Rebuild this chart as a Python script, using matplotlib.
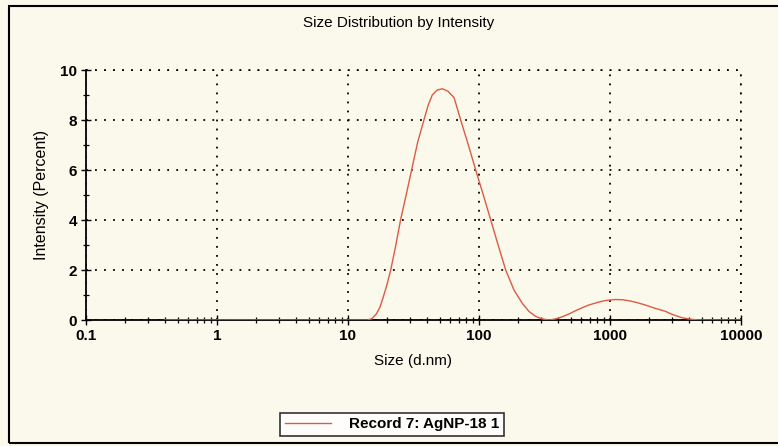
import matplotlib.pyplot as plt
from matplotlib.patches import Rectangle
from matplotlib.ticker import FixedLocator, NullFormatter

plt.rcParams['font.family'] = ['Liberation Sans', 'DejaVu Sans']

# size (d.nm) vs intensity (%)
size_nm = [0.4, 1, 5, 10, 14, 15.2, 16.5, 17.5, 18.3, 19.7, 21.2, 23, 25.2,
           27.8, 30.6, 34, 38, 41, 44, 48, 52.5, 58, 64.5, 68, 72.5, 83,
           94.4, 108, 123, 140, 160, 185, 214, 240, 270, 300, 342, 390,
           432, 490, 550, 620, 690, 800, 900, 1000, 1100, 1250, 1400, 1600,
           1860, 2200, 2640, 3000, 3500, 4000, 4500, 5000, 10000]
intensity = [0, 0, 0, 0, 0, 0.05, 0.25, 0.5, 0.8, 1.35, 2.0, 2.9, 4.0,
             5.0, 6.0, 7.1, 8.0, 8.6, 9.0, 9.2, 9.25, 9.15, 8.9, 8.5, 8.0, 7.0,
             6.0, 5.0, 4.0, 3.0, 2.0, 1.2, 0.67, 0.35, 0.15, 0.05, 0, 0.05,
             0.13, 0.25, 0.38, 0.5, 0.6, 0.7, 0.77, 0.8, 0.82, 0.81, 0.77, 0.7,
             0.6, 0.47, 0.35, 0.22, 0.1, 0.04, 0.01, 0, 0]

x_ticks = [0.1, 1, 10, 100, 1000, 10000]
x_ticklabels = ['0.1', '1', '10', '100', '1000', '10000']
y_ticks = [0, 2, 4, 6, 8, 10]

bg = '#fbf9ec'
fig = plt.figure(figsize=(7.78, 4.46), dpi=100, facecolor=bg)
ax = fig.add_axes([0.1105, 0.2825, 0.8419, 0.5605])
ax.set_facecolor('none')

ax.plot(size_nm, intensity, color='#dd5a44', lw=1.0, label='Record 7: AgNP-18 1', zorder=3)

ax.set_xscale('log')
ax.set_xlim(0.1, 10000)
ax.set_ylim(0, 10)
ax.xaxis.set_major_locator(FixedLocator(x_ticks))
ax.set_xticklabels(x_ticklabels)
minors = [m * 10 ** e for e in range(-1, 4) for m in range(2, 10)]
ax.xaxis.set_minor_locator(FixedLocator(minors))
ax.xaxis.set_minor_formatter(NullFormatter())
ax.set_yticks(y_ticks)
ax.yaxis.set_minor_locator(FixedLocator([1, 3, 5, 7, 9]))

for lab in ax.get_xticklabels() + ax.get_yticklabels():
    lab.set_fontweight('bold')
    lab.set_fontsize(11)
ax.tick_params(which='major', direction='inout', length=7, width=1.0, color='black', pad=3)
ax.tick_params(which='minor', direction='inout', length=5, width=0.9, color='black')

ax.grid(True, which='major', color='black', linestyle=(0, (1, 4)), linewidth=1.3)
ax.spines['top'].set_visible(False)
ax.spines['right'].set_visible(False)
ax.spines['left'].set_linewidth(1.3)
ax.spines['bottom'].set_linewidth(1.3)
# dotted frame on top and right like the grid
ax.axhline(10, color='black', linestyle=(0, (1, 4)), linewidth=1.3, clip_on=False)
ax.axvline(10000, color='black', linestyle=(0, (1, 4)), linewidth=1.3, clip_on=False)

ax.set_xlabel('Size (d.nm)', fontsize=11, labelpad=8)
ax.set_ylabel('Intensity (Percent)', fontsize=11.5, labelpad=8)
fig.text(0.512, 0.948, 'Size Distribution by Intensity', ha='center', va='center', fontsize=11)

leg = fig.legend(loc='center', bbox_to_anchor=(0.504, 0.049), frameon=True, fancybox=False,
                 edgecolor='black', facecolor='white', handlelength=3.0, handletextpad=1.2,
                 borderpad=0.3, borderaxespad=0, prop={'weight': 'bold', 'size': 11})
leg.get_frame().set_linewidth(1.2)

# photo frame
fig.patches.append(Rectangle((9 / 778, 3 / 446), 1.0, 1 - 9 / 446, transform=fig.transFigure,
                             fill=False, edgecolor='black', linewidth=1.5))

fig.savefig('out.png', dpi=100, facecolor=bg)
